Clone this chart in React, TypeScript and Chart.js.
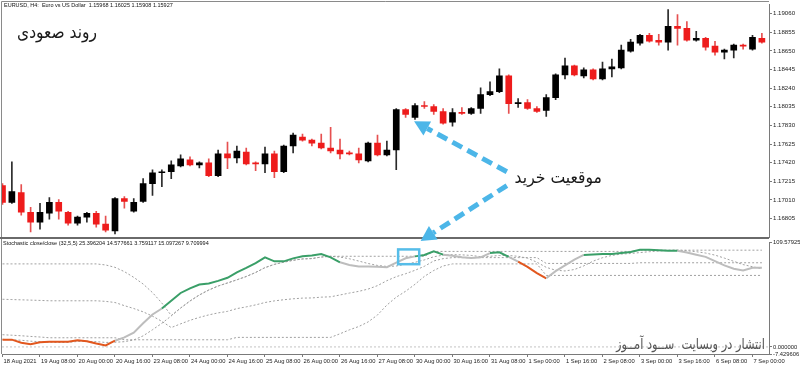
import React, { useEffect, useRef } from 'react';
import { Chart, registerables } from 'chart.js';

Chart.register(...registerables);

// ---------------- data ----------------
const opens = [
  1.17168, 1.16983, 1.17092, 1.16874, 1.16765, 1.16863, 1.16983, 1.16874, 1.16754, 1.16820,
  1.16863, 1.16744, 1.16668, 1.17026, 1.16885, 1.16994, 1.17190, 1.17309, 1.17320, 1.17385,
  1.17450, 1.17396, 1.17418, 1.17276, 1.17516, 1.17472, 1.17537, 1.17418, 1.17407, 1.17516,
  1.17320, 1.17603, 1.17701, 1.17668, 1.17635, 1.17581, 1.17559, 1.17527, 1.17516, 1.17440,
  1.17635, 1.17505, 1.17559, 1.18005, 1.17918, 1.18049, 1.18038, 1.17983, 1.17864, 1.17972,
  1.17962, 1.18016, 1.18168, 1.18201, 1.18375, 1.18070, 1.18081, 1.18016, 1.17994, 1.18136,
  1.18386, 1.18484, 1.18375, 1.18440, 1.18342, 1.18451, 1.18462, 1.18647, 1.18734, 1.18821,
  1.18766, 1.18745, 1.18919, 1.18897, 1.18766, 1.18788, 1.18701, 1.18636, 1.18658, 1.18712,
  1.18668, 1.18788,
];
const highs = [
  1.17190, 1.17429, 1.17179, 1.16929, 1.16972, 1.17037, 1.17015, 1.16885, 1.16831, 1.16874,
  1.16885, 1.16831, 1.17037, 1.17048, 1.17026, 1.17244, 1.17342, 1.17342, 1.17440, 1.17505,
  1.17483, 1.17429, 1.17461, 1.17559, 1.17646, 1.17603, 1.17581, 1.17429, 1.17592, 1.17548,
  1.17614, 1.17744, 1.17733, 1.17679, 1.17733, 1.17809, 1.17679, 1.17548, 1.17581, 1.17646,
  1.17722, 1.17657, 1.18016, 1.18016, 1.18070, 1.18092, 1.18060, 1.18016, 1.18016, 1.18027,
  1.18027, 1.18244, 1.18310, 1.18451, 1.18386, 1.18125, 1.18114, 1.18038, 1.18168, 1.18397,
  1.18571, 1.18494, 1.18462, 1.18451, 1.18527, 1.18560, 1.18712, 1.18777, 1.18832, 1.18843,
  1.18832, 1.19104, 1.19049, 1.18973, 1.18864, 1.18799, 1.18755, 1.18668, 1.18723, 1.18723,
  1.18821, 1.18843,
];
const lows = [
  1.16961, 1.16972, 1.16842, 1.16657, 1.16689, 1.16798, 1.16798, 1.16733, 1.16733, 1.16765,
  1.16711, 1.16657, 1.16635, 1.16918, 1.16874, 1.16983, 1.17059, 1.17157, 1.17244, 1.17374,
  1.17385, 1.17363, 1.17266, 1.17266, 1.17353, 1.17418, 1.17396, 1.17331, 1.17309, 1.17255,
  1.17309, 1.17527, 1.17657, 1.17603, 1.17570, 1.17527, 1.17461, 1.17505, 1.17418, 1.17429,
  1.17494, 1.17494, 1.17342, 1.17918, 1.17896, 1.18016, 1.17951, 1.17842, 1.17820, 1.17951,
  1.17951, 1.17962, 1.18157, 1.18190, 1.17962, 1.18027, 1.18005, 1.17972, 1.17929, 1.18114,
  1.18342, 1.18375, 1.18353, 1.18331, 1.18331, 1.18364, 1.18451, 1.18636, 1.18712, 1.18745,
  1.18712, 1.18658, 1.18712, 1.18755, 1.18755, 1.18658, 1.18603, 1.18560, 1.18571, 1.18668,
  1.18658, 1.18734,
];
const closes = [
  1.16983, 1.17103, 1.16874, 1.16765, 1.16874, 1.16983, 1.16885, 1.16754, 1.16820, 1.16863,
  1.16744, 1.16678, 1.17026, 1.16994, 1.16983, 1.17190, 1.17309, 1.17320, 1.17396, 1.17461,
  1.17396, 1.17418, 1.17276, 1.17516, 1.17472, 1.17548, 1.17407, 1.17407, 1.17516, 1.17320,
  1.17603, 1.17722, 1.17668, 1.17635, 1.17581, 1.17548, 1.17516, 1.17516, 1.17450, 1.17635,
  1.17505, 1.17559, 1.18005, 1.17951, 1.18049, 1.18038, 1.17983, 1.17853, 1.17972, 1.17962,
  1.18016, 1.18168, 1.18201, 1.18375, 1.18070, 1.18081, 1.18016, 1.17983, 1.18136, 1.18386,
  1.18484, 1.18386, 1.18440, 1.18342, 1.18451, 1.18473, 1.18658, 1.18745, 1.18821, 1.18755,
  1.18745, 1.18919, 1.18897, 1.18766, 1.18788, 1.18690, 1.18636, 1.18658, 1.18712, 1.18701,
  1.18799, 1.18745,
];

const priceTicks = [1.1906, 1.18855, 1.1865, 1.18445, 1.1824, 1.18035, 1.1783, 1.17625, 1.1742, 1.17215, 1.1701, 1.16805];

const timeTickBars = [0, 4, 8, 12, 16, 20, 24, 28, 32, 36, 40, 44, 48, 52, 56, 60, 64, 68, 72, 76, 80];
const timeLabels = [
  '18 Aug 2021', '19 Aug 08:00', '20 Aug 00:00', '20 Aug 16:00', '23 Aug 08:00', '24 Aug 00:00',
  '24 Aug 16:00', '25 Aug 08:00', '26 Aug 00:00', '26 Aug 16:00', '27 Aug 08:00', '30 Aug 00:00',
  '30 Aug 16:00', '31 Aug 08:00', '1 Sep 00:00', '1 Sep 16:00', '2 Sep 08:00', '3 Sep 00:00',
  '3 Sep 16:00', '6 Sep 08:00', '7 Sep 00:00',
];

const stochMain = [
  7.6, 7.6, 4.3, 2.8, 5, 5.5, 5.5, 5.5, 7, 6,
  3.5, 1.5, 6.5, 10, 15, 24.8, 34, 40.3, 48.4, 56.6,
  61.5, 65.5, 66.6, 69.3, 72.5, 78.3, 83, 88, 94, 89.8,
  89.8, 92.9, 95.2, 96, 97.5, 94, 88.8, 86, 84.3, 84.3,
  84, 83.6, 88.5, 93, 95, 96.5, 100.2, 96.8, 95.7, 94,
  93.2, 94, 98.5, 99.2, 94.5, 89.5, 84, 77.5, 72, 79.5,
  85.5, 91.5, 96.5, 97, 97.5, 97.5, 98.5, 99.5, 102, 102,
  101.5, 101, 101, 99, 96.8, 94.5, 90, 85.5, 82, 80.2,
  83, 83,
];
const stochSignal = [
  8, 7.5, 7, 6, 5.5, 5, 4.6, 4.8, 5.7, 5.9,
  5.5, 4.7, 4.9, 5.5, 7.3, 11.6, 18, 24.8, 32.5, 40.8,
  48.2, 54.5, 59.7, 63.9, 67.1, 70.4, 73.9, 78.1, 83.2, 86.6,
  88.9, 90.9, 92.3, 92.7, 94.3, 95.1, 94.3, 92.5, 90.1, 87.5,
  85.5, 84.4, 84.9, 86.7, 88.8, 91.3, 94.6, 96.3, 96.8, 96.6,
  96, 94.7, 95.1, 95.9, 95.9, 95.1, 93.1, 88.9, 83.5, 80.5,
  79.7, 81.2, 85, 90, 93.6, 96, 97.4, 98, 99, 99.9,
  100.7, 101.2, 101.5, 100.9, 99.9, 98.5, 96.3, 93.2, 89.8, 86.4,
  84.1, 82.1,
];
const stochHigh = [
  87.1, 87.1, 87.1, 87.1, 87.1, 87.1, 87.1, 87.1, 87.1, 87.1,
  87.1, 86, 83.5, 79, 73, 66, 57, 46, 33, 40.8,
  48.2, 54.5, 59.7, 63.9, 67.1, 70.4, 73.9, 78.1, 83.2, 86.6,
  88.9, 90.9, 92.3, 92.7, 94.3, 95.1, 95.1, 95.1, 95.1, 95.1,
  95.1, 95.1, 95.1, 95.1, 95.1, 95.1, 100.2, 100.2, 100.2, 100.2,
  100.2, 100.2, 100.2, 100.2, 100.2, 100.2, 100.2, 100.2, 100.2, 100.2,
  100.2, 100.2, 100.2, 100.2, 100.2, 100.2, 100.2, 100.2, 101.5, 101.5,
  101.5, 101.5, 101.5, 101.5, 101.5, 101.5, 101.5, 101.5, 101.5, 101.5,
  101.5, 101.5,
];
const stochLow = [
  12.8, 12.3, 11.7, 11, 10.4, 9.6, 9.6, 9.6, 9.6, 9.6,
  9.6, 9.6, 9.6, 7.5, 7.5, 7.5, 7.5, 7.5, 7.5, 7.5,
  7.5, 7.5, 7.5, 7.5, 7.5, 10, 10, 10, 10, 10,
  10, 10, 10, 10, 10, 10, 13.8, 17.9, 21.4, 26.2,
  33.5, 43.9, 52.2, 58.4, 65.7, 74, 80.2, 84.9, 87.1, 87.1,
  87.1, 87.1, 87.1, 87.1, 87.1, 87.1, 87.1, 87.1, 75, 75,
  75, 75, 75, 75, 75, 75, 75, 75, 75, 75,
  75, 75, 75, 75, 75, 75, 75, 75, 75, 75,
  75, 75,
];
const stochMid = [
  50, 49.7, 49.4, 49.1, 48.8, 48.4, 48.4, 48.4, 48.4, 48.4,
  48.4, 47.8, 46.6, 43.3, 40.3, 36.8, 32.3, 26.8, 20.3, 24.2,
  27.9, 31, 33.6, 35.7, 37.3, 40.2, 42, 44.1, 46.6, 48.3,
  49.5, 50.5, 51.2, 51.4, 52.2, 52.6, 54.5, 56.5, 58.3, 60.7,
  64.3, 69.5, 73.7, 76.8, 80.4, 84.6, 90.2, 92.6, 93.7, 93.7,
  93.7, 93.7, 93.7, 93.7, 93.7, 93.7, 93.7, 93.7, 87.6, 87.6,
  87.6, 87.6, 87.6, 87.6, 87.6, 87.6, 87.6, 87.6, 88.3, 88.3,
  88.3, 88.3, 88.3, 88.3, 88.3, 88.3, 88.3, 88.3, 88.3, 88.3,
  88.3, 88.3,
];
// colour state of each main-line segment: u = rising (green), d = falling (orange), n = neutral (grey)
const stochPhase = (
  'dddddddddddd' + 'nnnnn' + 'uuuuuuuuuuuuuuuuuuu' + 'nnnnnnnn' + 'uuu' + 'nnnnn' +
  'uu' + 'n' + 'ddd' + 'nnnn' + 'uuuuuuuuuu' + 'nnnnnnnnn'
).split('');
const stochLevel = 0;
const stochTicks = [109.57925, 0, -7.429606];

const chartTitle = 'EURUSD, H4:  Euro vs US Dollar  1.15968 1.16025 1.15908 1.15927';
const stochTitle = 'Stochastic close/close (32,5,5) 25.396204 14.577661 3.759117 15.097267 9.709994';
const trendText = 'روند صعودی';
const buyText = 'موقعیت خرید';
const creditText = 'انتشار در وبسایت  ســود آمــوز';

// annotation anchors (in data units)
const arrowToCandle = { fromBar: 53.8, fromPrice: 1.1732, toBar: 43.9, toPrice: 1.17875 };
const arrowToBox = { fromBar: 53.8, fromPrice: 1.17168, toBar: 44.6, toPrice: 1.16559 };
const buyBox = { fromBar: 42.2, toBar: 44.45, low: 86.8, high: 102.3 };

// ---------------- layout / style ----------------
const X_MIN = -0.053;
const X_MAX = 81.76;
const PRICE_MIN = 1.166022;
const PRICE_MAX = 1.191579;
const STOCH_MIN = -7.429606;
const STOCH_MAX = 109.57925;

const BULL = '#000000';
const BEAR = '#ee1c1c';
const BULL_WICK = '#2a2a2a';
const BEAR_WICK = '#e65050';
const PHASE_COLORS: Record<string, string> = { u: '#3a9f68', d: '#e2571e', n: '#bdbdbd' };
const DOT = '#a0a0a0';
const ARROW = '#4cb6e8';
const AXIS = '#7a7a7a';
const FONT_FAMILY = '"Liberation Sans", Arial, sans-serif';

function drawArrow(ctx: CanvasRenderingContext2D, x0: number, y0: number, x1: number, y1: number) {
  const dx = x1 - x0;
  const dy = y1 - y0;
  const len = Math.hypot(dx, dy);
  const ux = dx / len;
  const uy = dy / len;
  const headLen = 15;
  const headW = 8;
  const bx = x1 - ux * headLen;
  const by = y1 - uy * headLen;
  ctx.save();
  ctx.strokeStyle = ARROW;
  ctx.lineWidth = 5;
  ctx.setLineDash([11, 6]);
  ctx.beginPath();
  ctx.moveTo(x0, y0);
  ctx.lineTo(bx, by);
  ctx.stroke();
  ctx.setLineDash([]);
  ctx.fillStyle = ARROW;
  ctx.beginPath();
  ctx.moveTo(x1, y1);
  ctx.lineTo(bx - uy * headW, by + ux * headW);
  ctx.lineTo(bx + uy * headW, by - ux * headW);
  ctx.closePath();
  ctx.fill();
  ctx.restore();
}

const topDecor = {
  id: 'topDecor',
  afterDraw(chart: any) {
    const { ctx, chartArea: a, scales } = chart;
    const x = scales.x;
    const y = scales.y;
    ctx.save();
    ctx.strokeStyle = '#8a8a8a';
    ctx.lineWidth = 1;
    ctx.beginPath();
    ctx.moveTo(1.5, a.bottom);
    ctx.lineTo(1.5, 1.5);
    ctx.lineTo(a.right, 1.5);
    ctx.stroke();
    ctx.fillStyle = '#6a6a6a';
    ctx.fillRect(0, a.bottom, a.right, 2);
    ctx.restore();
    drawArrow(ctx,
      x.getPixelForValue(arrowToCandle.fromBar), y.getPixelForValue(arrowToCandle.fromPrice),
      x.getPixelForValue(arrowToCandle.toBar), y.getPixelForValue(arrowToCandle.toPrice));
    drawArrow(ctx,
      x.getPixelForValue(arrowToBox.fromBar), y.getPixelForValue(arrowToBox.fromPrice),
      x.getPixelForValue(arrowToBox.toBar), y.getPixelForValue(arrowToBox.toPrice));
  },
};

const bottomDecor = {
  id: 'bottomDecor',
  afterDraw(chart: any) {
    const { ctx, chartArea: a, scales } = chart;
    const x = scales.x;
    const y = scales.y;
    ctx.save();
    ctx.strokeStyle = '#8a8a8a';
    ctx.lineWidth = 1;
    ctx.beginPath();
    ctx.moveTo(1.5, 0);
    ctx.lineTo(1.5, a.bottom);
    ctx.stroke();
    const bx0 = x.getPixelForValue(buyBox.fromBar);
    const bx1 = x.getPixelForValue(buyBox.toBar);
    const by0 = y.getPixelForValue(buyBox.high);
    const by1 = y.getPixelForValue(buyBox.low);
    ctx.strokeStyle = '#56bde9';
    ctx.lineWidth = 2.5;
    ctx.strokeRect(bx0, by0, bx1 - bx0, by1 - by0);
    ctx.restore();
  },
};

export default function App() {
  const topRef = useRef<HTMLCanvasElement>(null);
  const botRef = useRef<HTMLCanvasElement>(null);

  useEffect(() => {
    const idx = opens.map((_, i) => i);
    const up = idx.map((i) => closes[i] >= opens[i]);

    const top = new Chart(topRef.current as HTMLCanvasElement, {
      type: 'bar',
      data: {
        datasets: [
          {
            label: 'wick',
            data: idx.map((i) => ({ x: i, y: [lows[i], highs[i]] })) as any,
            backgroundColor: idx.map((i) => (up[i] ? BULL_WICK : BEAR_WICK)),
            barThickness: 1,
            grouped: false,
            minBarLength: 1,
            borderWidth: 0,
            order: 2,
          } as any,
          {
            label: 'body',
            data: idx.map((i) => ({ x: i, y: [opens[i], closes[i]] })) as any,
            backgroundColor: idx.map((i) => (up[i] ? BULL : BEAR)),
            barThickness: 6,
            grouped: false,
            minBarLength: 1,
            borderWidth: 0,
            order: 1,
          } as any,
        ],
      },
      options: {
        responsive: false,
        animation: false,
        devicePixelRatio: 1,
        events: [],
        layout: { padding: { left: 2, top: 2, right: 0, bottom: 9 } },
        plugins: { legend: { display: false }, tooltip: { enabled: false } },
        scales: {
          x: {
            type: 'linear',
            min: X_MIN,
            max: X_MAX,
            offset: false,
            display: false,
            grid: { offset: false },
          },
          y: {
            type: 'linear',
            position: 'right',
            min: PRICE_MIN,
            max: PRICE_MAX,
            afterFit: (s: any) => { s.width = 31; },
            afterBuildTicks: (s: any) => { s.ticks = priceTicks.map((v) => ({ value: v })); },
            ticks: {
              autoSkip: false,
              font: { family: FONT_FAMILY, size: 6.1 },
              color: '#222',
              padding: 1,
              callback: (v: any) => Number(v).toFixed(5),
            },
            grid: { drawOnChartArea: false, tickLength: 3, color: AXIS },
            border: { color: AXIS },
          },
        },
      } as any,
      plugins: [topDecor],
    });

    const pts = (arr: number[]) => arr.map((v, i) => ({ x: i, y: v }));
    const dotted = (label: string, arr: number[]) => ({
      label,
      data: pts(arr),
      borderColor: DOT,
      borderWidth: 1,
      borderDash: [2, 2],
      pointRadius: 0,
      tension: 0,
      fill: false,
      order: 2,
    });

    const bot = new Chart(botRef.current as HTMLCanvasElement, {
      type: 'line',
      data: {
        datasets: [
          {
            label: 'level',
            data: [{ x: X_MIN, y: stochLevel }, { x: X_MAX, y: stochLevel }],
            borderColor: '#c4c4c4',
            borderWidth: 1,
            borderDash: [2, 2],
            pointRadius: 0,
            fill: false,
            order: 3,
          },
          dotted('high', stochHigh),
          dotted('low', stochLow),
          dotted('mid', stochMid),
          dotted('signal', stochSignal),
          {
            label: 'main',
            data: pts(stochMain),
            borderColor: PHASE_COLORS.n,
            borderWidth: 2,
            pointRadius: 0,
            tension: 0,
            fill: false,
            order: 0,
            segment: {
              borderColor: (c: any) => PHASE_COLORS[stochPhase[c.p0DataIndex]] || PHASE_COLORS.n,
            },
          },
        ] as any,
      },
      options: {
        responsive: false,
        animation: false,
        devicePixelRatio: 1,
        events: [],
        layout: { padding: { left: 2, top: 3, right: 0, bottom: 0 } },
        plugins: { legend: { display: false }, tooltip: { enabled: false } },
        scales: {
          x: {
            type: 'linear',
            min: X_MIN,
            max: X_MAX,
            offset: false,
            afterFit: (s: any) => { s.height = 15; },
            afterBuildTicks: (s: any) => { s.ticks = timeTickBars.map((v) => ({ value: v })); },
            ticks: {
              autoSkip: false,
              maxRotation: 0,
              minRotation: 0,
              align: 'start',
              labelOffset: 1,
              padding: 1,
              font: { family: FONT_FAMILY, size: 5.8 },
              color: '#222',
              callback: (v: any) => {
                const k = timeTickBars.indexOf(Number(v));
                return k >= 0 ? timeLabels[k] : '';
              },
            },
            grid: { drawOnChartArea: false, tickLength: 3, color: AXIS, offset: false },
            border: { color: AXIS },
          },
          y: {
            type: 'linear',
            position: 'right',
            min: STOCH_MIN,
            max: STOCH_MAX,
            afterFit: (s: any) => { s.width = 31; },
            afterBuildTicks: (s: any) => { s.ticks = stochTicks.map((v) => ({ value: v })); },
            ticks: {
              autoSkip: false,
              font: { family: FONT_FAMILY, size: 5.8 },
              color: '#222',
              padding: 1,
              callback: (v: any) => Number(v).toFixed(6),
            },
            grid: { drawOnChartArea: false, tickLength: 3, color: AXIS },
            border: { color: AXIS },
          },
        },
      } as any,
      plugins: [bottomDecor],
    });

    return () => {
      top.destroy();
      bot.destroy();
    };
  }, []);

  const small: React.CSSProperties = {
    position: 'absolute',
    fontFamily: FONT_FAMILY,
    fontSize: '5.5px',
    lineHeight: '7px',
    color: '#111',
    whiteSpace: 'pre',
    zIndex: 3,
  };
  const fa: React.CSSProperties = {
    position: 'absolute',
    fontFamily: '"DejaVu Sans", sans-serif',
    direction: 'rtl',
    whiteSpace: 'pre',
    lineHeight: 1,
    color: '#1a1a1a',
    zIndex: 3,
    transformOrigin: 'right center',
  };

  return (
    <div style={{ position: 'relative', width: 800, height: 369, background: '#fff', overflow: 'hidden' }}>
      <style>{'body{margin:0}'}</style>
      <canvas ref={botRef} width={800} height={131} style={{ position: 'absolute', left: 0, top: 238, zIndex: 1 }} />
      <canvas ref={topRef} width={800} height={246} style={{ position: 'absolute', left: 0, top: 0, zIndex: 2 }} />
      <div style={{ ...small, left: 4, top: 2 }}>{chartTitle}</div>
      <div style={{ ...small, left: 3, top: 240 }}>{stochTitle}</div>
      <div style={{ ...fa, right: 703, top: 23, fontSize: 18, transform: 'scaleX(0.86)' }}>{trendText}</div>
      <div style={{ ...fa, right: 198, top: 169, fontSize: 17, transform: 'scaleX(0.92)' }}>{buyText}</div>
      <div style={{ ...fa, right: 35, top: 337, fontSize: 15, color: '#555', transform: 'scaleX(0.76)' }}>{creditText}</div>
    </div>
  );
}
